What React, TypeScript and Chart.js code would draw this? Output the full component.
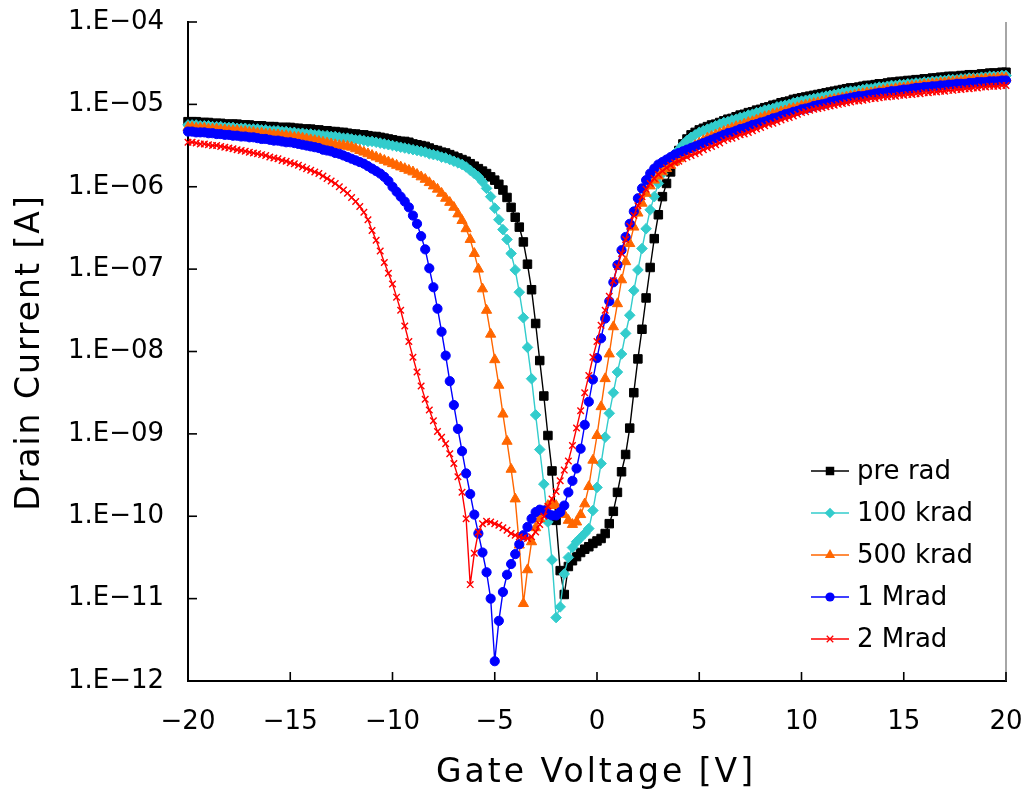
import React, { useEffect, useRef } from "react";
import { Chart, registerables } from "chart.js";

Chart.register(...registerables);

// Gate voltage sweep [V]
const VOLTAGE_V = [
  -20, -19.8, -19.6, -19.4, -19.2, -19, -18.8, -18.6, -18.4, -18.2,
  -18, -17.8, -17.6, -17.4, -17.2, -17, -16.8, -16.6, -16.4, -16.2,
  -16, -15.8, -15.6, -15.4, -15.2, -15, -14.8, -14.6, -14.4, -14.2,
  -14, -13.8, -13.6, -13.4, -13.2, -13, -12.8, -12.6, -12.4, -12.2,
  -12, -11.8, -11.6, -11.4, -11.2, -11, -10.8, -10.6, -10.4, -10.2,
  -10, -9.8, -9.6, -9.4, -9.2, -9, -8.8, -8.6, -8.4, -8.2,
  -8, -7.8, -7.6, -7.4, -7.2, -7, -6.8, -6.6, -6.4, -6.2,
  -6, -5.8, -5.6, -5.4, -5.2, -5, -4.8, -4.6, -4.4, -4.2,
  -4, -3.8, -3.6, -3.4, -3.2, -3, -2.8, -2.6, -2.4, -2.2,
  -2, -1.8, -1.6, -1.4, -1.2, -1, -0.8, -0.6, -0.4, -0.2,
  0, 0.2, 0.4, 0.6, 0.8, 1, 1.2, 1.4, 1.6, 1.8,
  2, 2.2, 2.4, 2.6, 2.8, 3, 3.2, 3.4, 3.6, 3.8,
  4, 4.2, 4.4, 4.6, 4.8, 5, 5.2, 5.4, 5.6, 5.8,
  6, 6.2, 6.4, 6.6, 6.8, 7, 7.2, 7.4, 7.6, 7.8,
  8, 8.2, 8.4, 8.6, 8.8, 9, 9.2, 9.4, 9.6, 9.8,
  10, 10.2, 10.4, 10.6, 10.8, 11, 11.2, 11.4, 11.6, 11.8,
  12, 12.2, 12.4, 12.6, 12.8, 13, 13.2, 13.4, 13.6, 13.8,
  14, 14.2, 14.4, 14.6, 14.8, 15, 15.2, 15.4, 15.6, 15.8,
  16, 16.2, 16.4, 16.6, 16.8, 17, 17.2, 17.4, 17.6, 17.8,
  18, 18.2, 18.4, 18.6, 18.8, 19, 19.2, 19.4, 19.6, 19.8,
  20,
];

// Drain current, stored as log10(I [A])
const PRE_RAD_LOG10 = [
  -5.21, -5.21, -5.21, -5.22, -5.22, -5.22, -5.23, -5.23, -5.23, -5.24,
  -5.24, -5.24, -5.24, -5.25, -5.25, -5.25, -5.26, -5.26, -5.26, -5.27,
  -5.27, -5.27, -5.28, -5.28, -5.28, -5.28, -5.29, -5.29, -5.30, -5.30,
  -5.30, -5.31, -5.31, -5.32, -5.32, -5.33, -5.33, -5.34, -5.34, -5.35,
  -5.36, -5.36, -5.37, -5.37, -5.38, -5.39, -5.39, -5.40, -5.41, -5.42,
  -5.43, -5.44, -5.45, -5.45, -5.46, -5.48, -5.49, -5.50, -5.51, -5.53,
  -5.55, -5.56, -5.58, -5.59, -5.61, -5.63, -5.65, -5.67, -5.69, -5.72,
  -5.75, -5.78, -5.81, -5.84, -5.88, -5.92, -5.97, -6.04, -6.13, -6.25,
  -6.37, -6.49, -6.67, -6.94, -7.25, -7.66, -8.11, -8.54, -9.02, -9.45,
  -10.05, -10.66, -10.95, -10.61, -10.54, -10.49, -10.44, -10.40, -10.37, -10.33,
  -10.30, -10.27, -10.21, -10.09, -9.94, -9.71, -9.46, -9.25, -8.93, -8.50,
  -8.09, -7.73, -7.35, -6.98, -6.63, -6.34, -6.12, -5.96, -5.82, -5.68,
  -5.56, -5.48, -5.42, -5.37, -5.34, -5.31, -5.29, -5.27, -5.25, -5.24,
  -5.22, -5.20, -5.18, -5.17, -5.15, -5.13, -5.12, -5.10, -5.09, -5.07,
  -5.06, -5.04, -5.03, -5.01, -5.00, -4.98, -4.97, -4.96, -4.94, -4.93,
  -4.92, -4.91, -4.90, -4.89, -4.88, -4.87, -4.86, -4.85, -4.84, -4.83,
  -4.82, -4.81, -4.80, -4.80, -4.79, -4.78, -4.77, -4.77, -4.76, -4.75,
  -4.75, -4.74, -4.73, -4.73, -4.72, -4.72, -4.71, -4.71, -4.70, -4.70,
  -4.69, -4.69, -4.68, -4.68, -4.67, -4.67, -4.66, -4.66, -4.66, -4.65,
  -4.65, -4.64, -4.64, -4.64, -4.63, -4.63, -4.62, -4.62, -4.62, -4.61,
  -4.61,
];

const KRAD_100_LOG10 = [
  -5.25, -5.25, -5.25, -5.26, -5.26, -5.26, -5.27, -5.27, -5.27, -5.28,
  -5.28, -5.28, -5.29, -5.29, -5.29, -5.30, -5.30, -5.30, -5.31, -5.31,
  -5.32, -5.32, -5.32, -5.33, -5.33, -5.34, -5.34, -5.35, -5.35, -5.36,
  -5.36, -5.37, -5.37, -5.38, -5.38, -5.39, -5.39, -5.40, -5.41, -5.41,
  -5.42, -5.43, -5.43, -5.44, -5.45, -5.45, -5.46, -5.47, -5.48, -5.49,
  -5.50, -5.51, -5.52, -5.53, -5.54, -5.55, -5.56, -5.57, -5.58, -5.60,
  -5.61, -5.62, -5.64, -5.65, -5.67, -5.69, -5.71, -5.73, -5.76, -5.80,
  -5.84, -5.88, -5.94, -6.02, -6.12, -6.26, -6.40, -6.52, -6.64, -6.81,
  -7.01, -7.28, -7.59, -7.95, -8.33, -8.77, -9.19, -9.61, -10.07, -10.53,
  -11.23, -11.10, -10.70, -10.50, -10.38, -10.31, -10.26, -10.21, -10.15, -9.93,
  -9.65, -9.36, -9.04, -8.75, -8.50, -8.25, -8.03, -7.78, -7.56, -7.26,
  -7.01, -6.75, -6.51, -6.28, -6.12, -5.96, -5.84, -5.74, -5.66, -5.60,
  -5.55, -5.49, -5.44, -5.40, -5.37, -5.34, -5.32, -5.30, -5.28, -5.26,
  -5.24, -5.22, -5.21, -5.19, -5.18, -5.16, -5.15, -5.13, -5.12, -5.10,
  -5.09, -5.07, -5.06, -5.05, -5.03, -5.02, -5.01, -5.00, -4.98, -4.97,
  -4.96, -4.95, -4.94, -4.93, -4.92, -4.91, -4.90, -4.89, -4.88, -4.87,
  -4.86, -4.85, -4.84, -4.84, -4.83, -4.82, -4.81, -4.81, -4.80, -4.79,
  -4.79, -4.78, -4.77, -4.77, -4.76, -4.76, -4.75, -4.75, -4.74, -4.74,
  -4.73, -4.73, -4.72, -4.72, -4.71, -4.71, -4.70, -4.70, -4.70, -4.69,
  -4.69, -4.68, -4.68, -4.68, -4.67, -4.67, -4.66, -4.66, -4.66, -4.65,
  -4.65,
];

const KRAD_500_LOG10 = [
  -5.28, -5.28, -5.29, -5.29, -5.29, -5.30, -5.30, -5.30, -5.31, -5.31,
  -5.32, -5.32, -5.32, -5.33, -5.33, -5.34, -5.34, -5.35, -5.35, -5.36,
  -5.36, -5.37, -5.37, -5.38, -5.38, -5.39, -5.40, -5.40, -5.41, -5.42,
  -5.43, -5.44, -5.45, -5.46, -5.47, -5.48, -5.49, -5.50, -5.50, -5.51,
  -5.52, -5.54, -5.56, -5.58, -5.60, -5.62, -5.64, -5.66, -5.68, -5.70,
  -5.72, -5.74, -5.76, -5.78, -5.80, -5.82, -5.85, -5.88, -5.91, -5.95,
  -5.99, -6.03, -6.08, -6.14, -6.19, -6.25, -6.33, -6.41, -6.51, -6.64,
  -6.81, -7.00, -7.24, -7.50, -7.79, -8.10, -8.41, -8.76, -9.09, -9.43,
  -9.79, -10.35, -11.06, -10.65, -10.31, -10.14, -10.03, -9.95, -9.87, -9.84,
  -9.87, -9.92, -9.98, -10.05, -10.10, -10.07, -9.98, -9.85, -9.64, -9.32,
  -9.02, -8.67, -8.33, -8.03, -7.70, -7.42, -7.13, -6.91, -6.69, -6.49,
  -6.32, -6.20, -6.08, -5.99, -5.92, -5.87, -5.82, -5.78, -5.74, -5.70,
  -5.66, -5.62, -5.58, -5.54, -5.50, -5.47, -5.44, -5.41, -5.39, -5.37,
  -5.35, -5.33, -5.31, -5.29, -5.27, -5.26, -5.24, -5.22, -5.21, -5.19,
  -5.17, -5.15, -5.14, -5.12, -5.11, -5.09, -5.08, -5.06, -5.05, -5.04,
  -5.02, -5.01, -5.00, -4.99, -4.98, -4.97, -4.96, -4.95, -4.94, -4.93,
  -4.92, -4.91, -4.90, -4.89, -4.88, -4.87, -4.86, -4.86, -4.85, -4.84,
  -4.83, -4.82, -4.82, -4.81, -4.80, -4.80, -4.79, -4.78, -4.78, -4.77,
  -4.76, -4.76, -4.75, -4.75, -4.74, -4.74, -4.73, -4.73, -4.72, -4.72,
  -4.71, -4.71, -4.70, -4.70, -4.70, -4.69, -4.69, -4.69, -4.68, -4.68,
  -4.68,
];

const MRAD_1_LOG10 = [
  -5.33, -5.33, -5.34, -5.34, -5.34, -5.35, -5.35, -5.36, -5.36, -5.37,
  -5.37, -5.38, -5.38, -5.39, -5.39, -5.40, -5.40, -5.41, -5.42, -5.42,
  -5.43, -5.44, -5.44, -5.45, -5.46, -5.46, -5.47, -5.48, -5.49, -5.50,
  -5.51, -5.52, -5.53, -5.55, -5.56, -5.57, -5.59, -5.60, -5.62, -5.64,
  -5.66, -5.68, -5.70, -5.72, -5.75, -5.78, -5.81, -5.84, -5.88, -5.93,
  -6.00, -6.06, -6.12, -6.18, -6.25, -6.35, -6.45, -6.60, -6.76, -6.99,
  -7.22, -7.48, -7.76, -8.05, -8.36, -8.65, -8.94, -9.21, -9.48, -9.73,
  -9.98, -10.21, -10.44, -10.68, -11.00, -11.76, -11.27, -10.92, -10.71, -10.58,
  -10.46, -10.34, -10.23, -10.13, -10.03, -9.95, -9.92, -9.93, -9.97, -9.99,
  -9.99, -9.95, -9.87, -9.71, -9.57, -9.42, -9.18, -8.89, -8.61, -8.34,
  -8.08, -7.84, -7.60, -7.39, -7.16, -6.95, -6.77, -6.61, -6.45, -6.30,
  -6.14, -6.02, -5.92, -5.84, -5.78, -5.73, -5.70, -5.67, -5.64, -5.61,
  -5.59, -5.57, -5.55, -5.53, -5.51, -5.49, -5.47, -5.45, -5.43, -5.41,
  -5.39, -5.37, -5.35, -5.34, -5.32, -5.30, -5.29, -5.27, -5.25, -5.24,
  -5.22, -5.21, -5.19, -5.17, -5.16, -5.14, -5.12, -5.11, -5.09, -5.08,
  -5.06, -5.05, -5.04, -5.02, -5.01, -5.00, -4.99, -4.97, -4.96, -4.95,
  -4.94, -4.93, -4.92, -4.91, -4.90, -4.90, -4.89, -4.88, -4.87, -4.86,
  -4.86, -4.85, -4.84, -4.84, -4.83, -4.82, -4.82, -4.81, -4.80, -4.80,
  -4.79, -4.79, -4.78, -4.78, -4.77, -4.77, -4.76, -4.76, -4.75, -4.75,
  -4.75, -4.74, -4.74, -4.73, -4.73, -4.73, -4.72, -4.72, -4.72, -4.71,
  -4.71,
];

const MRAD_2_LOG10 = [
  -5.46, -5.46, -5.47, -5.48, -5.48, -5.49, -5.50, -5.50, -5.51, -5.52,
  -5.53, -5.54, -5.55, -5.56, -5.57, -5.58, -5.59, -5.60, -5.61, -5.62,
  -5.64, -5.65, -5.66, -5.68, -5.69, -5.71, -5.72, -5.74, -5.76, -5.78,
  -5.80, -5.82, -5.84, -5.87, -5.90, -5.93, -5.96, -6.00, -6.04, -6.08,
  -6.13, -6.18, -6.24, -6.31, -6.40, -6.53, -6.65, -6.78, -6.92, -7.05,
  -7.18, -7.34, -7.50, -7.69, -7.88, -8.07, -8.25, -8.42, -8.58, -8.71,
  -8.84, -8.97, -9.04, -9.12, -9.24, -9.36, -9.52, -9.71, -10.03, -10.83,
  -10.45, -10.19, -10.09, -10.06, -10.07, -10.09, -10.11, -10.14, -10.17, -10.21,
  -10.23, -10.25, -10.26, -10.27, -10.25, -10.19, -10.10, -10.00, -9.88, -9.79,
  -9.70, -9.57, -9.44, -9.33, -9.14, -8.93, -8.72, -8.50, -8.29, -8.07,
  -7.88, -7.68, -7.50, -7.33, -7.14, -6.97, -6.81, -6.64, -6.48, -6.35,
  -6.23, -6.12, -6.03, -5.96, -5.90, -5.85, -5.81, -5.77, -5.74, -5.71,
  -5.69, -5.66, -5.64, -5.62, -5.60, -5.58, -5.55, -5.53, -5.51, -5.49,
  -5.47, -5.44, -5.42, -5.41, -5.39, -5.37, -5.36, -5.34, -5.32, -5.30,
  -5.28, -5.26, -5.24, -5.23, -5.21, -5.19, -5.17, -5.16, -5.14, -5.12,
  -5.10, -5.09, -5.07, -5.06, -5.05, -5.04, -5.03, -5.02, -5.01, -5.00,
  -4.99, -4.98, -4.97, -4.96, -4.96, -4.95, -4.94, -4.93, -4.93, -4.92,
  -4.91, -4.91, -4.90, -4.90, -4.89, -4.89, -4.88, -4.88, -4.87, -4.87,
  -4.86, -4.86, -4.85, -4.85, -4.84, -4.84, -4.83, -4.83, -4.82, -4.82,
  -4.81, -4.81, -4.80, -4.80, -4.79, -4.79, -4.78, -4.78, -4.78, -4.77,
  -4.77,
];

const SERIES_LABELS = ["pre rad", "100 krad", "500 krad", "1 Mrad", "2 Mrad"];
const SERIES_LOG10 = [PRE_RAD_LOG10, KRAD_100_LOG10, KRAD_500_LOG10, MRAD_1_LOG10, MRAD_2_LOG10];
const SERIES_COLORS = ["#000000", "#33CCCC", "#FF6600", "#0000FF", "#FF0000"];
const SERIES_POINT_STYLES = ["rect", "rectRot", "triangle", "circle", "crossRot"];
const SERIES_POINT_RADII = [6, 5.3, 5.9, 4.6, 4.6];

const X_TICK_VALUES = [-20, -15, -10, -5, 0, 5, 10, 15, 20];
const X_TICK_LABELS = ["\u221220", "\u221215", "\u221210", "\u22125", "0", "5", "10", "15", "20"];
const Y_TICK_VALUES = [1e-12, 1e-11, 1e-10, 1e-9, 1e-8, 1e-7, 1e-6, 1e-5, 1e-4];
const Y_TICK_LABELS = [
  "1.E\u221212", "1.E\u221211", "1.E\u221210", "1.E\u221209", "1.E\u221208",
  "1.E\u221207", "1.E\u221206", "1.E\u221205", "1.E\u221204",
];

const X_TITLE = "Gate Voltage [V]";
const Y_TITLE = "Drain Current [A]";
const FONT = "'DejaVu Sans', 'Liberation Sans', sans-serif";

function drawMarker(ctx: CanvasRenderingContext2D, style: string, x: number, y: number, r: number, color: string) {
  ctx.save();
  ctx.fillStyle = color;
  ctx.strokeStyle = color;
  ctx.lineWidth = 1.3;
  ctx.beginPath();
  if (style === "rect") {
    const s = Math.SQRT1_2 * r;
    ctx.rect(x - s, y - s, 2 * s, 2 * s);
    ctx.fill();
  } else if (style === "rectRot") {
    ctx.moveTo(x - r, y);
    ctx.lineTo(x, y - r);
    ctx.lineTo(x + r, y);
    ctx.lineTo(x, y + r);
    ctx.closePath();
    ctx.fill();
  } else if (style === "triangle") {
    const w = r * Math.sin(Math.PI * 2 / 3);
    ctx.moveTo(x, y - r);
    ctx.lineTo(x + w, y + r / 2);
    ctx.lineTo(x - w, y + r / 2);
    ctx.closePath();
    ctx.fill();
  } else if (style === "circle") {
    ctx.arc(x, y, r, 0, Math.PI * 2);
    ctx.fill();
  } else {
    const d = r * Math.SQRT1_2;
    ctx.moveTo(x - d, y - d);
    ctx.lineTo(x + d, y + d);
    ctx.moveTo(x + d, y - d);
    ctx.lineTo(x - d, y + d);
    ctx.stroke();
  }
  ctx.restore();
}

const framePlugin = {
  id: "frameAndTicks",
  beforeDatasetsDraw(chart: any) {
    const { ctx, chartArea } = chart;
    ctx.save();
    ctx.strokeStyle = "#A6A6A6";
    ctx.lineWidth = 2;
    ctx.beginPath();
    ctx.moveTo(chartArea.right, chartArea.top);
    ctx.lineTo(chartArea.right, chartArea.bottom);
    ctx.stroke();
    ctx.strokeStyle = "#000000";
    ctx.lineWidth = 1.6;
    const ys = chart.scales.y;
    const xs = chart.scales.x;
    for (const v of Y_TICK_VALUES) {
      const py = ys.getPixelForValue(v);
      ctx.beginPath();
      ctx.moveTo(chartArea.left, py);
      ctx.lineTo(chartArea.left + 9, py);
      ctx.stroke();
    }
    for (const v of X_TICK_VALUES) {
      const px = xs.getPixelForValue(v);
      ctx.beginPath();
      ctx.moveTo(px, chartArea.bottom);
      ctx.lineTo(px, chartArea.bottom - 9);
      ctx.stroke();
    }
    ctx.restore();
  },
};

const titlesPlugin = {
  id: "axisTitles",
  afterDraw(chart: any) {
    const { ctx, chartArea } = chart;
    ctx.save();
    ctx.fillStyle = "#000000";
    ctx.font = `33px ${FONT}`;
    ctx.textAlign = "center";
    ctx.textBaseline = "middle";
    (ctx as any).letterSpacing = "3px";
    ctx.fillText(X_TITLE, (chartArea.left + chartArea.right) / 2 - 1, 773);
    (ctx as any).letterSpacing = "2px";
    ctx.translate(30, (chartArea.top + chartArea.bottom) / 2 + 1);
    ctx.rotate(-Math.PI / 2);
    ctx.fillText(Y_TITLE, 0, 0);
    ctx.restore();
  },
};

const legendPlugin = {
  id: "seriesLegend",
  afterDraw(chart: any) {
    const { ctx } = chart;
    const x0 = 811;
    const x1 = 849;
    const xm = 830;
    const xt = 857;
    const y0 = 471;
    const dy = 42;
    ctx.save();
    SERIES_LABELS.forEach((label, i) => {
      const y = y0 + i * dy;
      ctx.strokeStyle = SERIES_COLORS[i];
      ctx.lineWidth = 1.5;
      ctx.beginPath();
      ctx.moveTo(x0, y);
      ctx.lineTo(x1, y);
      ctx.stroke();
      drawMarker(ctx, SERIES_POINT_STYLES[i], xm, y, SERIES_POINT_RADII[i], SERIES_COLORS[i]);
      ctx.fillStyle = "#000000";
      ctx.font = `26px ${FONT}`;
      ctx.textAlign = "left";
      ctx.textBaseline = "middle";
      ctx.fillText(label, xt, y + 1);
    });
    ctx.restore();
  },
};

export default function App() {
  const canvasRef = useRef<HTMLCanvasElement | null>(null);

  useEffect(() => {
    const canvas = canvasRef.current;
    if (!canvas) return;
    const datasets = SERIES_LOG10.map((values, i) => ({
      label: SERIES_LABELS[i],
      data: VOLTAGE_V.map((v, k) => ({ x: v, y: Math.pow(10, values[k]) })),
      borderColor: SERIES_COLORS[i],
      backgroundColor: SERIES_COLORS[i],
      borderWidth: 1.4,
      pointStyle: SERIES_POINT_STYLES[i] as any,
      pointRadius: SERIES_POINT_RADII[i],
      pointBackgroundColor: SERIES_COLORS[i],
      pointBorderColor: SERIES_COLORS[i],
      pointBorderWidth: i === 4 ? 1.4 : 1,
      tension: 0,
      order: 4 - i,
      clip: false as any,
    }));

    const chart = new Chart(canvas, {
      type: "line",
      data: { datasets },
      options: {
        responsive: false,
        animation: false,
        devicePixelRatio: 1,
        events: [],
        layout: { padding: { left: 8, right: 18, top: 22, bottom: 0 } },
        plugins: {
          legend: { display: false },
          tooltip: { enabled: false },
        },
        scales: {
          x: {
            type: "linear",
            min: -20,
            max: 20,
            afterBuildTicks: (s: any) => {
              s.ticks = X_TICK_VALUES.map((v) => ({ value: v }));
            },
            afterFit: (s: any) => {
              s.height = 112;
              s.paddingLeft = 0;
              s.paddingRight = 0;
            },
            grid: { display: false, drawTicks: false },
            border: { display: true, color: "#000000", width: 2 },
            ticks: {
              autoSkip: false,
              maxRotation: 0,
              padding: 26,
              color: "#000000",
              font: { family: FONT, size: 26 },
              callback: (v: any) => X_TICK_LABELS[X_TICK_VALUES.indexOf(Number(v))] ?? "",
            },
            title: { display: false },
          },
          y: {
            type: "logarithmic",
            min: 1e-12,
            max: 1e-4,
            afterBuildTicks: (s: any) => {
              s.ticks = Y_TICK_VALUES.map((v) => ({ value: v }));
            },
            afterFit: (s: any) => {
              s.width = 180;
              s.paddingTop = 0;
              s.paddingBottom = 0;
            },
            grid: { display: false, drawTicks: false },
            border: { display: true, color: "#000000", width: 2 },
            ticks: {
              autoSkip: false,
              padding: 24,
              color: "#000000",
              font: { family: FONT, size: 26 },
              callback: (v: any) => {
                const idx = Math.round(Math.log10(Number(v))) + 12;
                return Y_TICK_LABELS[idx] ?? "";
              },
            },
            title: { display: false },
          },
        },
      },
      plugins: [framePlugin, titlesPlugin, legendPlugin],
    } as any);

    return () => {
      chart.destroy();
    };
  }, []);

  return (
    <div style={{ position: "absolute", left: 0, top: 0, width: 1024, height: 793, background: "#ffffff" }}>
      <canvas ref={canvasRef} width={1024} height={793} style={{ display: "block" }} />
    </div>
  );
}
